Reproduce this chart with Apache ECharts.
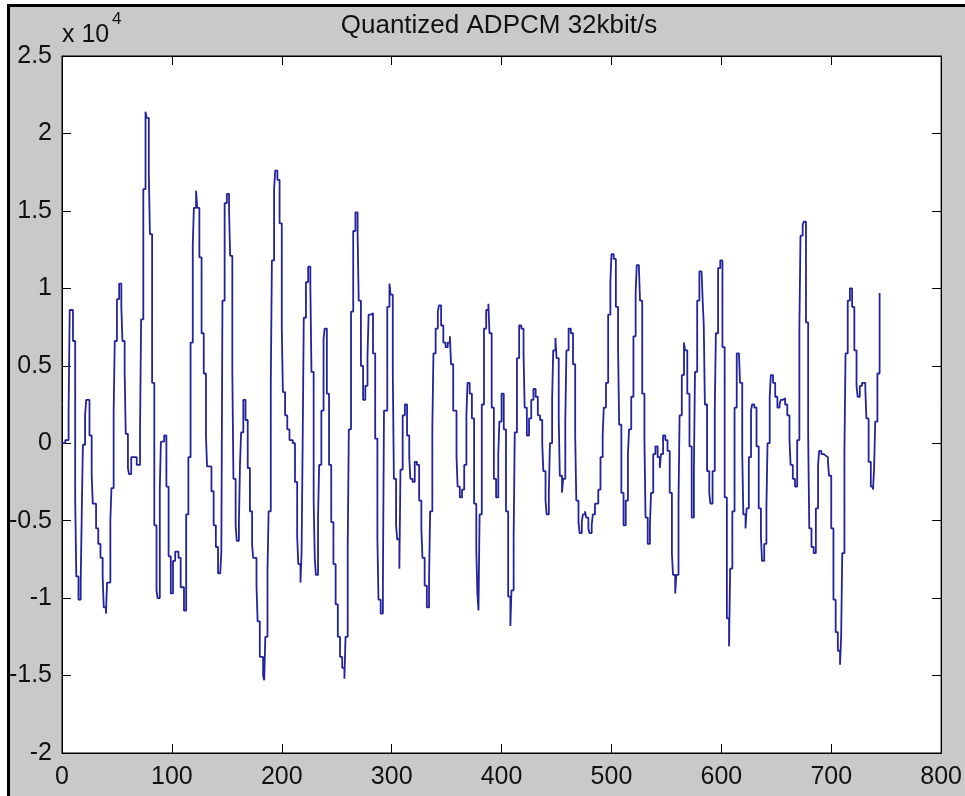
<!DOCTYPE html>
<html><head><meta charset="utf-8">
<script src="https://cdn.jsdelivr.net/npm/echarts@6/dist/echarts.min.js"></script>
<style>html,body{margin:0;padding:0;background:#fff;}#c{width:965px;height:796px;}</style>
</head><body><div id="c"></div>
<script>
// sample index (x) and amplitude in units of 10^4 (y)
const sampleIndex = [
0,3,6,7,10,12,13,15,17,18,19,21,22,25,27,28,31,33,35,37,38,40,41,44,45,47,48,50,52,54,55,57,58,60,61,63,68,71,72,74,76,77,79,80,82,84,86,87,89,90,93,95,97,99,101,103,106,108,111,113,115,117,119,120,122,123,125,127,129,131,132,136,138,140,142,
144,145,146,148,150,152,153,155,156,158,159,161,162,163,165,167,169,171,173,174,177,178,180,183,184,185,187,188,190,191,193,194,196,198,200,201,203,205,207,210,212,214,215,217,218,219,220,222,224,226,227,229,230,231,233,234,236,238,239,241,243,245,247,249,251,253,255,257,258,260,261,263,265,267,269,270,272,274,276,278,279,281,283,285,287,288,
290,292,293,296,298,299,301,302,304,305,307,308,310,312,314,316,317,319,321,323,325,327,328,330,332,334,335,337,338,340,342,343,345,347,349,351,353,354,356,359,360,362,364,366,368,369,371,373,375,377,378,379,380,382,384,386,388,389,391,393,395,397,398,400,402,404,406,408,409,411,412,414,416,418,420,421,423,425,427,429,431,433,
435,437,438,440,441,443,444,446,447,449,450,452,453,455,456,458,459,461,463,465,467,468,470,471,473,474,476,477,479,480,482,483,485,488,490,492,493,495,497,499,500,502,504,506,507,509,511,513,515,516,518,520,522,523,525,526,528,530,531,533,535,536,538,540,542,544,545,547,549,551,553,555,556,558,559,561,562,564,566,567,569,571,573,575,576,578,
580,582,583,584,585,587,589,590,592,594,595,597,599,601,603,605,607,608,610,612,614,616,617,619,620,622,623,625,627,628,630,632,634,636,637,639,641,642,644,645,647,649,651,653,654,656,658,660,662,663,665,667,669,671,672,674,675,677,679,680,682,684,686,688,689,691,693,695,697,698,700,702,704,706,708,709,710,712,713,715,717,719,721,723,724,726,728,731,732,734,736,738,739,740,742,744
];
const amplitude = [
0,0.02,0.2,0.86,0.66,-0.36,-0.86,-1.01,-0.9,-0.44,-0.01,0.18,0.28,0.05,-0.2,-0.39,-0.55,-0.65,-0.74,-0.86,-1.06,-1.1,-0.9,-0.5,-0.29,0.2,0.66,0.93,1.03,0.88,0.66,0.46,0.06,-0.16,-0.2,-0.09,-0.14,0.08,0.8,1.64,2.14,2.1,1.75,1.35,0.39,-0.53,-0.95,-1.0,-0.29,0.01,0.05,-0.28,-0.73,-0.97,-0.76,-0.7,-0.74,-0.93,-1.08,-0.46,-0.09,0.65,1.28,1.52,1.63,1.52,1.2,0.71,0.45,0.05,-0.15,-0.31,-0.53,-0.67,-0.84,
-0.85,-0.7,0.92,1.55,1.61,1.52,1.21,0.46,-0.23,-0.53,-0.63,-0.51,-0.13,0.07,0.28,0.15,-0.16,-0.44,-0.66,-0.74,-0.92,-1.15,-1.38,-1.5,-1.53,-1.25,-0.83,-0.44,0.39,1.18,1.64,1.76,1.7,1.42,0.74,0.33,0.18,0.09,0.02,0.0,-0.25,-0.6,-0.78,-0.9,-0.71,0.0,0.81,1.04,1.14,1.01,0.46,-0.37,-0.74,-0.85,-0.48,-0.14,0.21,0.67,0.74,0.32,-0.14,-0.51,-0.78,-1.04,-1.25,-1.38,-1.45,-1.52,-1.25,-0.67,0.09,0.85,1.37,1.49,1.34,0.92,0.5,0.28,0.37,0.56,0.83,0.84,0.58,0.03,-0.62,-1.01,
-1.1,-0.92,0.21,0.88,1.03,0.96,0.48,-0.23,-0.53,-0.62,-0.81,-0.17,0.18,0.25,0.05,-0.09,-0.23,-0.25,-0.12,-0.14,-0.37,-0.55,-0.74,-0.92,-1.06,-0.88,-0.44,0.09,0.58,0.74,0.85,0.89,0.76,0.65,0.62,0.65,0.69,0.51,0.21,-0.09,-0.28,-0.35,-0.3,-0.14,0.18,0.39,0.32,0.16,-0.39,-0.69,-0.97,-1.08,-0.46,0.25,0.74,0.86,0.9,0.71,0.23,-0.23,-0.35,-0.07,0.14,0.32,0.09,-0.44,-0.99,-1.18,-0.95,-0.6,0.07,0.55,0.76,0.74,0.58,0.23,0.05,0.16,0.28,0.35,0.3,0.18,
0.15,0.0,-0.18,-0.37,-0.46,-0.32,0.0,0.28,0.6,0.68,0.55,0.16,-0.21,-0.32,-0.23,0.14,0.6,0.74,0.71,0.51,0.05,-0.37,-0.51,-0.58,-0.51,-0.46,-0.44,-0.48,-0.55,-0.58,-0.53,-0.46,-0.39,-0.3,-0.09,0.05,0.23,0.39,0.83,1.04,1.22,1.19,0.88,0.62,0.12,-0.32,-0.53,-0.37,-0.07,0.09,0.3,0.69,0.97,1.15,1.13,0.92,0.32,0.02,-0.48,-0.65,-0.53,-0.32,-0.07,-0.02,-0.09,-0.16,-0.07,0.05,0.02,-0.05,-0.32,-0.71,-0.85,-0.97,-0.85,-0.39,0.18,0.44,0.65,0.6,0.32,-0.02,-0.48,-0.18,0.46,0.92,
1.11,1.11,0.92,0.76,0.25,-0.18,-0.32,-0.39,-0.18,0.21,0.71,1.13,1.18,0.62,-0.35,-1.13,-1.31,-0.81,-0.44,0.23,0.58,0.58,0.39,-0.07,-0.46,-0.55,-0.42,-0.09,0.21,0.25,0.23,-0.02,-0.42,-0.6,-0.76,-0.65,-0.42,0.0,0.3,0.44,0.39,0.3,0.23,0.25,0.28,0.29,0.25,0.18,0.02,-0.14,-0.23,-0.28,0.02,0.74,1.34,1.41,1.43,0.78,0.05,-0.55,-0.67,-0.71,-0.42,-0.14,-0.05,-0.07,-0.08,-0.09,-0.12,-0.21,-0.55,-1.01,-1.22,-1.34,-1.43,-1.25,-0.71,-0.05,0.58,0.92,1.0,0.88,0.6,0.37,0.3,0.37,0.39,0.35,0.16,-0.12,-0.28,-0.3,-0.16,0.14,0.45,0.97
];
const xRange = [0, 800], xStep = 100;
const yRange = [-2, 2.5], yStep = 0.5;
const titleText = 'Quantized ADPCM 32kbit/s';
const scaleBase = 'x 10', scaleExp = '4';

const FONT = 'Liberation Sans, Arial, sans-serif';
const chart = echarts.init(document.getElementById('c'), null, {renderer: 'canvas'});
const tickStyle = {inside: true, length: 9, lineStyle: {color: '#000', width: 1}};
const axisLine = {show: true, onZero: false, lineStyle: {color: '#000', width: 1}};
const lbl = {color: '#111', fontSize: 25, fontFamily: FONT};

chart.setOption({
  animation: false,
  backgroundColor: '#c9c9c9',
  grid: {left: 62, top: 56, width: 882, height: 697, show: true, backgroundColor: '#fff', borderColor: '#000', borderWidth: 1},
  xAxis: [
    {type: 'value', min: xRange[0], max: xRange[1], interval: xStep, position: 'bottom',
     axisLine: axisLine, axisTick: tickStyle, splitLine: {show: false},
     axisLabel: Object.assign({margin: 12}, lbl)},
    {type: 'value', min: xRange[0], max: xRange[1], interval: xStep, position: 'top',
     axisLine: axisLine, axisTick: tickStyle, splitLine: {show: false}, axisLabel: {show: false}}
  ],
  yAxis: [
    {type: 'value', min: yRange[0], max: yRange[1], interval: yStep, position: 'left',
     axisLine: axisLine, axisTick: tickStyle, splitLine: {show: false},
     axisLabel: Object.assign({margin: 10}, lbl)},
    {type: 'value', min: yRange[0], max: yRange[1], interval: yStep, position: 'right',
     axisLine: axisLine, axisTick: tickStyle, splitLine: {show: false}, axisLabel: {show: false}}
  ],
  graphic: [
    {type: 'rect', shape: {x: 0, y: 0, width: 965, height: 4}, style: {fill: '#fff'}, silent: true},
    {type: 'rect', shape: {x: 0, y: 0, width: 7, height: 796}, style: {fill: '#fff'}, silent: true},
    {type: 'rect', shape: {x: 7, y: 4, width: 958, height: 3}, style: {fill: '#000'}, silent: true},
    {type: 'rect', shape: {x: 7, y: 4, width: 3, height: 792}, style: {fill: '#000'}, silent: true},
    {type: 'text', x: 499, y: 26, style: {text: titleText, fill: '#111', fontSize: 26, fontFamily: FONT, textAlign: 'center', textVerticalAlign: 'middle'}},
    {type: 'text', x: 62, y: 35, style: {text: scaleBase, fill: '#111', fontSize: 25, fontFamily: FONT, textAlign: 'left', textVerticalAlign: 'middle'}},
    {type: 'text', x: 112, y: 19, style: {text: scaleExp, fill: '#111', fontSize: 17, fontFamily: FONT, textAlign: 'left', textVerticalAlign: 'middle'}}
  ],
  series: [{
    type: 'line', step: 'end', showSymbol: false, xAxisIndex: 0, yAxisIndex: 0,
    data: sampleIndex.map((x, i) => [x, amplitude[i]]),
    lineStyle: {color: '#23239c', width: 1.8},
    clip: true
  }]
});
</script></body></html>
